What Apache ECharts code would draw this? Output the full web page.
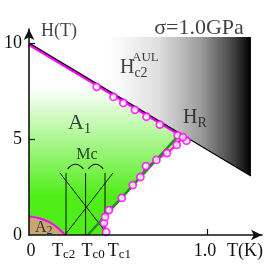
<!DOCTYPE html>
<html><head><meta charset="utf-8">
<script src="https://cdn.jsdelivr.net/npm/echarts@6/dist/echarts.min.js"></script>
<style>html,body{margin:0;padding:0;background:#fff}#c{width:273px;height:268px}</style>
</head><body><div id="c"></div>
<script>
// ---- axis ticks / labels ----
const yLabelValues = [0, 5, 10];
const yTickValues = [5, 10];
const xLabelValues = [0.011, 0.194, 0.36, 0.508, 0.989, 1.213];
const xLabelTexts = ['{n|0}', '{n|T}{s|c2}', '{n|T}{s|c0}', '{n|T}{s|c1}', '{n|1.0}', '{n|T(K)}'];
const xTickValues = [1.0];

// ---- phase boundaries (T in K, H in T) ----
const hc2Line = [[0, 10], [1.247, 3.07]];             // H_c2^AUL (black)
const hc2Magenta = [[0, 9.93], [0.85, 5.21]];         // magenta upper boundary
const greenLine = [[0.33, 0], [0.85, 5.28]];          // green line T_c0 -> H_R
const lowerCurve = [[0.433, 0], [0.425, 0.35], [0.421, 0.63], [0.427, 0.94], [0.449, 1.30], [0.521, 1.93],
  [0.583, 2.60], [0.626, 3.02], [0.657, 3.50], [0.716, 3.91], [0.775, 4.27], [0.830, 4.69], [0.865, 5.10], [0.85, 5.28]];
const grayPoly = [[0, 10.31], [1.247, 10.31], [1.247, 3.07], [0, 10]];
const a2Curve = [[0, 0.97], [0.06, 0.87], [0.12, 0.64], [0.165, 0.34], [0.195, 0.08], [0.208, 0]];

// ---- data circles ----
const upperT = [0.38, 0.475, 0.53, 0.595, 0.66, 0.735, 0.835, 0.885];
const upperH = [7.72, 7.19, 6.88, 6.52, 6.16, 5.75, 5.19, 4.91];
const lowerT = [0.433, 0.421, 0.427, 0.449, 0.521, 0.583, 0.626, 0.657, 0.716, 0.775, 0.830, 0.865];
const lowerH = [0.16, 0.63, 0.94, 1.30, 1.93, 2.60, 3.02, 3.59, 3.91, 4.27, 4.69, 5.10];

// ---- Mc construction ----
const mcVerticalT = [0.208, 0.318, 0.427];
const mcTop = 3.23;
const mcDiagonals = [[[0.174, 3.23], [0.444, 0]], [[0.472, 3.23], [0.202, 0]]];
const mcArcs = [[0.217, 0.305, 3.45], [0.333, 0.417, 3.45]];

// ---- text annotations ----
const annText = ['{a|H(T)}', '{b|σ=1.0GPa}', '{c|A}{cs|1}', '{d|H}{ds|c2}', '{e|AUL}', '{d|H}{ds|R}', '{f|Mc}', '{g|A}{gs|2}'];
const annT = [0.067, 0.955, 0.219, 0.511, 0.579, 0.865, 0.326, 0.034];
const annH = [10.63, 10.78, 5.83, 8.7, 9.22, 6.09, 4.17, 0.36];
const annAlign = ['left', 'center', 'left', 'left', 'left', 'left', 'center', 'left'];

const FF = 'Liberation Serif';
const chart = echarts.init(document.getElementById('c'));

function polyline(pts, style, z, smooth) {
  return {type: 'custom', coordinateSystem: 'cartesian2d', clip: false, silent: true, z: z,
    data: [pts[0]],
    renderItem: (p, api) => ({type: 'polyline', shape: {points: pts.map(q => api.coord(q)), smooth: smooth || 0}, style: Object.assign({fill: null}, style)})};
}

const series = [];
// gray gradient region
series.push({type: 'custom', coordinateSystem: 'cartesian2d', clip: false, silent: true, z: 1, data: [grayPoly[0]],
  renderItem: (p, api) => {
    const x0 = api.coord([0.455, 0])[0], x1 = api.coord([1.247, 0])[0];
    return {type: 'polygon', shape: {points: grayPoly.map(q => api.coord(q))},
      style: {fill: {type: 'linear', x: x0, y: 0, x2: x1, y2: 0, global: true,
        colorStops: [{offset: 0, color: '#ffffff'}, {offset: 0.35, color: '#dedede'}, {offset: 0.65, color: '#9a9a9a'}, {offset: 0.88, color: '#404040'}, {offset: 1, color: '#000000'}]}}};
  }});
// green A1 region
series.push({type: 'custom', coordinateSystem: 'cartesian2d', clip: false, silent: true, z: 2, data: [[0, 0]],
  renderItem: (p, api) => {
    const pts = [[0, 0], [0, 10]].concat(lowerCurve.slice().reverse());
    const y0 = api.coord([0, 7.7])[1], y1 = api.coord([0, 2.0])[1];
    return {type: 'polygon', shape: {points: pts.map(q => api.coord(q))},
      style: {fill: {type: 'linear', x: 0, y: y0, x2: 0, y2: y1, global: true,
        colorStops: [{offset: 0, color: '#ffffff'}, {offset: 1, color: '#50ee18'}]}}};
  }});
// A2 region
series.push({type: 'custom', coordinateSystem: 'cartesian2d', clip: false, silent: true, z: 3, data: [[0, 0]],
  renderItem: (p, api) => ({type: 'polygon', shape: {points: [[0, 0]].concat(a2Curve).map(q => api.coord(q)), smooth: 0},
    style: {fill: '#c8a574'}})});
series.push(polyline(a2Curve, {stroke: '#ff00ff', lineWidth: 2}, 4, 0.3));
// Mc lines
mcVerticalT.forEach(t => series.push(polyline([[t, 0], [t, mcTop]], {stroke: '#111', lineWidth: 1}, 5)));
mcDiagonals.forEach(d => series.push(polyline(d, {stroke: '#111', lineWidth: 1}, 5)));
series.push({type: 'custom', coordinateSystem: 'cartesian2d', clip: false, silent: true, z: 5, data: mcArcs,
  renderItem: (p, api) => {
    const a = api.coord([api.value(0), api.value(2)]), b = api.coord([api.value(1), api.value(2)]);
    return {type: 'bezierCurve', shape: {x1: a[0], y1: a[1], x2: b[0], y2: b[1], cpx1: (a[0] + b[0]) / 2, cpy1: a[1] - 9},
      style: {stroke: '#111', lineWidth: 1.2, fill: null}};
  }});
// boundaries
series.push(polyline(lowerCurve, {stroke: '#ff00ff', lineWidth: 2}, 6));
series.push(polyline(greenLine, {stroke: '#2a8a22', lineWidth: 2.5}, 7));
series.push(polyline(hc2Magenta, {stroke: '#ff00ff', lineWidth: 3}, 7));
series.push(polyline(hc2Line, {stroke: '#000', lineWidth: 1.2}, 8));
// circles
series.push({type: 'scatter', clip: false, silent: true, z: 9, symbol: 'circle', symbolSize: 7,
  itemStyle: {color: '#ffffff', borderColor: '#ff00ff', borderWidth: 1.8},
  data: upperT.map((t, i) => [t, upperH[i]]).concat(lowerT.map((t, i) => [t, lowerH[i]]))});
// text
const rs = (size, extra) => Object.assign({fontSize: size, fontFamily: FF, color: '#111'}, extra || {});
series.push({type: 'scatter', clip: false, silent: true, z: 10, symbolSize: 0,
  data: annText.map((s, i) => ({value: [annT[i], annH[i]],
    label: {show: true, formatter: s, position: [0, 0], align: annAlign[i], verticalAlign: 'middle'}})),
  label: {show: true, fontFamily: FF, color: '#111',
    rich: {
      a: rs(18), b: rs(22),
      c: rs(22, {lineHeight: 26}), cs: rs(15, {verticalAlign: 'bottom', lineHeight: 14}),
      d: rs(20, {lineHeight: 24}), ds: rs(14, {verticalAlign: 'bottom', lineHeight: 14}),
      e: rs(13), f: rs(16),
      g: rs(16, {lineHeight: 18}), gs: rs(12, {verticalAlign: 'bottom', lineHeight: 11})
    }}});

chart.setOption({
  animation: false,
  textStyle: {fontFamily: FF},
  grid: {left: 29, right: 11, top: 29, bottom: 33},
  xAxis: {type: 'value', min: 0, max: 1.309, z: 20,
    axisLine: {lineStyle: {color: '#111', width: 1.6}, symbol: ['none', 'arrow'], symbolSize: [8, 11]},
    axisTick: {customValues: xTickValues, inside: true, length: 6, lineStyle: {color: '#111', width: 1.2}},
    axisLabel: {customValues: xLabelValues, margin: 6, fontFamily: FF, formatter: v => {
        let best = 0; xLabelValues.forEach((x, i) => { if (Math.abs(x - v) < Math.abs(xLabelValues[best] - v)) best = i; });
        return xLabelTexts[best]; },
      rich: {n: rs(18, {lineHeight: 20}), s: rs(13, {verticalAlign: 'bottom', lineHeight: 12})}},
    splitLine: {show: false}},
  yAxis: {type: 'value', min: 0, max: 10.73, z: 20,
    axisLine: {show: true, lineStyle: {color: '#111', width: 1.6}, symbol: ['none', 'arrow'], symbolSize: [8, 11]},
    axisTick: {show: true, customValues: yTickValues, inside: true, length: 6, lineStyle: {color: '#111', width: 1.2}},
    axisLabel: {customValues: yLabelValues, margin: 7, fontSize: 18, fontFamily: FF, color: '#111'},
    splitLine: {show: false}},
  series: series
});
</script></body></html>
